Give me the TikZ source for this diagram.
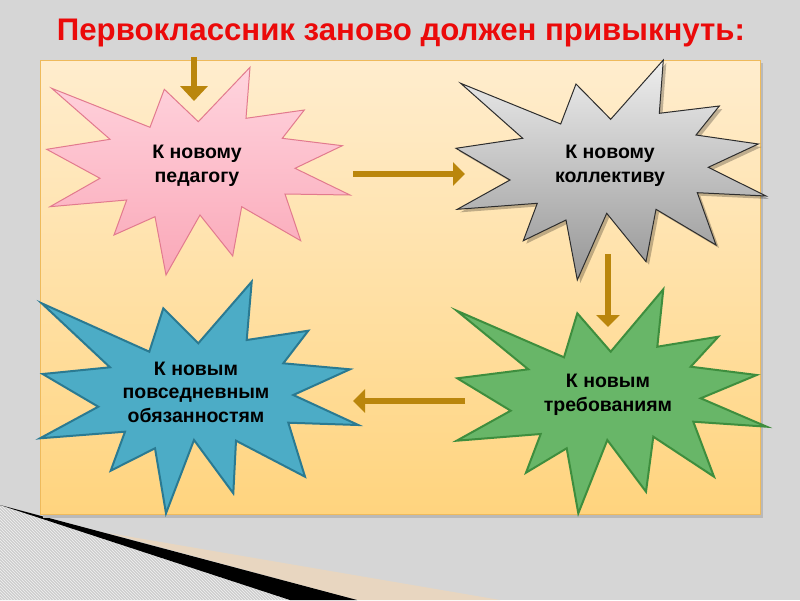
\documentclass[tikz,border=0pt]{standalone}
\usepackage{fontspec}
\setmainfont{Liberation Sans}
\usetikzlibrary{arrows.meta,patterns}
\definecolor{pagebg}{RGB}{214,214,214}
\definecolor{titlered}{RGB}{235,10,10}
\definecolor{paneltop}{RGB}{255,237,206}
\definecolor{panelbot}{RGB}{255,212,126}
\definecolor{panelline}{RGB}{238,186,92}
\definecolor{arrowgold}{RGB}{186,134,12}
\definecolor{pinktop}{RGB}{255,212,222}
\definecolor{pinkbot}{RGB}{250,168,184}
\definecolor{pinkline}{RGB}{226,122,142}
\definecolor{graytop}{RGB}{238,238,238}
\definecolor{graybot}{RGB}{150,150,150}
\definecolor{grayline}{RGB}{45,45,45}
\definecolor{bluefill}{RGB}{76,172,198}
\definecolor{blueline}{RGB}{42,122,146}
\definecolor{greenfill}{RGB}{104,182,104}
\definecolor{greenline}{RGB}{62,142,62}
\definecolor{peach}{RGB}{232,214,192}
\definecolor{hatchgray}{RGB}{205,205,205}
\tikzset{
  lbl/.style={align=center,font=\bfseries\fontsize{19.5}{23.5}\selectfont,text=black,inner sep=0pt},
  conn/.style={draw=arrowgold,line width=6pt,-{Triangle[width=23pt,length=12pt]}},
  bigconn/.style={draw=arrowgold,line width=6pt,-{Triangle[width=27pt,length=15pt]}},
  starpink/.style={draw=pinkline,line width=1pt,top color=pinktop,bottom color=pinkbot},
  stargray/.style={draw=grayline,line width=1pt,top color=graytop,bottom color=graybot},
  starblue/.style={draw=blueline,line width=2pt,fill=bluefill},
  stargreen/.style={draw=greenline,line width=2pt,fill=greenfill}
}
\begin{document}
\begin{tikzpicture}[x=1pt,y=-1pt]
\fill[pagebg] (0,0) rectangle (800,600);
\useasboundingbox (0,0) rectangle (800,600);
% bottom-left decoration
\fill[hatchgray] (0,505) -- (290,600) -- (0,600) -- cycle;
\fill[pattern=north west lines,pattern color=white!90!gray] (0,505) -- (290,600) -- (0,600) -- cycle;
\fill[peach] (108,533) -- (500,600) -- (357,600) -- cycle;
\fill[black] (0,505) -- (357,600) -- (290,600) -- cycle;
% title
\node[text=titlered,font=\bfseries\fontsize{31.2}{36}\selectfont,anchor=base,inner sep=0pt] (title) at (401,40) {Первоклассник заново должен привыкнуть:};
% panel
\fill[gray!55] (43,63) rectangle (763,518);
\path[draw=panelline,line width=0.8pt,top color=paneltop,bottom color=panelbot] (40,60) rectangle (760,514);
% stars
\path[starpink] (51.7,88.3) -- (150,127.3) -- (164.3,89.3) -- (198.3,121.7) -- (250,67.3) -- (246,118.3) -- (304.3,110) -- (282.3,138.3) -- (342.3,145.7) -- (295,168.3) -- (350,195) -- (285,194) -- (300.7,240.7) -- (241.7,206.7) -- (232.7,256) -- (200,215) -- (166,275) -- (155,216.7) -- (114,235) -- (126.7,200) -- (50,206.7) -- (100,178.3) -- (46.7,149.3) -- (110,139.3) -- cycle;
\fill[black,opacity=0.25] (463.7,86.3) -- (563.7,127) -- (579,87) -- (613.7,122.3) -- (666.3,63) -- (662.3,116.3) -- (722.3,109) -- (699,138) -- (761.3,147) -- (711.3,170.3) -- (769,199) -- (700.3,195.7) -- (719,248) -- (659,212.3) -- (649,264.7) -- (609.7,216.3) -- (580.3,283) -- (569,223) -- (526.3,243.7) -- (540.3,206.3) -- (460.3,212.3) -- (513,183) -- (459,151.3) -- (525.7,141.3) -- cycle;
\path[stargray] (460.7,83.3) -- (560.7,124) -- (576,84) -- (610.7,119.3) -- (663.3,60) -- (659.3,113.3) -- (719.3,106) -- (696,135) -- (758.3,144) -- (708.3,167.3) -- (766,196) -- (697.3,192.7) -- (716,245) -- (656,209.3) -- (646,261.7) -- (606.7,213.3) -- (577.3,280) -- (566,220) -- (523.3,240.7) -- (537.3,203.3) -- (457.3,209.3) -- (510,180) -- (456,148.3) -- (522.7,138.3) -- cycle;
\path[starblue] (41.7,303.3) -- (149.3,351.7) -- (163.3,308.3) -- (198.3,343.3) -- (251.7,281.7) -- (246.7,340) -- (308.3,330.7) -- (283.3,363.3) -- (350,369.3) -- (293.3,395) -- (358.3,425) -- (288.3,422.7) -- (305,476.7) -- (236,440.7) -- (233.3,493.3) -- (194,440) -- (166,513.3) -- (155,448.3) -- (110.7,470.7) -- (125,431.7) -- (40,438.3) -- (98.3,406.7) -- (42.7,374) -- (110,367.3) -- cycle;
\path[stargreen] (456.7,310.7) -- (564,357.3) -- (577.3,313.3) -- (610.7,351.7) -- (663.3,289.3) -- (657.3,346.7) -- (718.3,336.7) -- (690.7,366.7) -- (756.7,375) -- (700.7,398.3) -- (766.7,426.7) -- (693.3,421.7) -- (714,476.7) -- (653.3,436.7) -- (646,491.7) -- (607.3,440) -- (578.3,513.3) -- (566.7,448.3) -- (526,472.7) -- (540.7,434) -- (456.7,440.7) -- (510.7,410.7) -- (457.3,378.3) -- (528.3,369.3) -- cycle;
% labels
\node[lbl] (ped) at (197,166) {К новому\\педагогу};
\node[lbl] (kol) at (610,166) {К новому\\коллективу};
\node[lbl] (treb) at (608,395) {К новым\\требованиям};
\node[lbl] (obyaz) at (196,392) {К новым\\повседневным\\обязанностям};
% connector end points
\coordinate (a1s) at (194,57);
\coordinate (a1e) at (194,101);
\coordinate (a2s) at (353,174);
\coordinate (a2e) at (465,174);
\coordinate (a3s) at (608,254);
\coordinate (a3e) at (608,327);
\coordinate (a4s) at (465,401);
\coordinate (a4e) at (353,401);
\draw[bigconn] (a1s) -- (a1e);
\draw[conn] (a2s) -- (a2e);
\draw[conn] (a3s) -- (a3e);
\draw[conn] (a4s) -- (a4e);
\end{tikzpicture}
\end{document}
